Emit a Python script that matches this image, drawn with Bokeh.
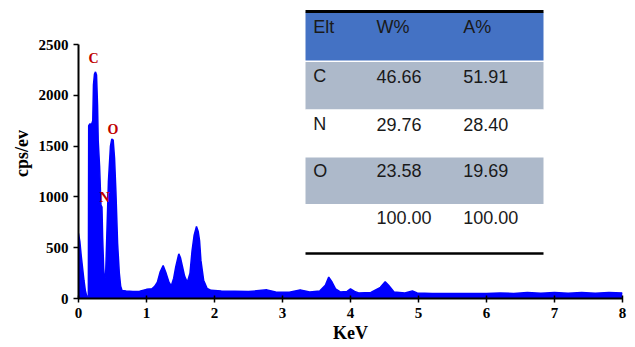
from bokeh.plotting import figure
from bokeh.models import Range1d, FixedTicker, Label, ColumnDataSource
from bokeh.core.properties import value
from bokeh.embed import file_html
from bokeh.resources import INLINE

# ---------------- data ----------------
energy_kev = [0.00, 0.02, 0.04, 0.06, 0.08, 0.10, 0.12, 0.145, 0.15, 0.17, 0.19, 0.21,
              0.22, 0.235, 0.25, 0.265, 0.28, 0.29, 0.31, 0.33, 0.345, 0.355, 0.37, 0.385,
              0.40, 0.42, 0.44, 0.47, 0.49, 0.51, 0.53, 0.55, 0.575, 0.60, 0.62, 0.64,
              0.70, 0.80, 0.90, 1.00, 1.08, 1.12, 1.16, 1.20, 1.245, 1.29, 1.33, 1.365,
              1.40, 1.43, 1.475, 1.50, 1.525, 1.56, 1.60, 1.64, 1.67, 1.70, 1.735, 1.76,
              1.78, 1.80, 1.84, 1.89, 1.95, 2.10, 2.30, 2.50, 2.77, 2.90, 3.10, 3.26,
              3.40, 3.55, 3.63, 3.68, 3.73, 3.78, 3.85, 3.95, 4.00, 4.06, 4.12, 4.30,
              4.44, 4.51, 4.56, 4.64, 4.80, 4.91, 4.98, 5.20, 5.60, 6.00, 6.20, 6.40,
              6.60, 6.80, 7.00, 7.20, 7.40, 7.60, 7.80, 8.00]
counts = [640, 560, 420, 300, 180, 80, 25, 22, 1700, 1720, 1710, 1750,
          2100, 2210, 2230, 2200, 1900, 1550, 1300, 920, 900, 600, 300, 170,
          250, 700, 1150, 1500, 1570, 1560, 1380, 1050, 540, 250, 120, 80,
          75, 70, 72, 90, 95, 120, 160, 260, 325, 245, 160, 125,
          200, 310, 440, 400, 325, 220, 160, 250, 470, 620, 710, 660,
          570, 375, 180, 100, 80, 75, 72, 68, 85, 65, 62, 85,
          65, 75, 130, 210, 160, 95, 65, 70, 95, 70, 55, 60,
          110, 165, 130, 65, 55, 75, 55, 50, 48, 48, 55, 50,
          58, 52, 58, 52, 58, 52, 58, 55]

peak_labels = ["C", "N", "O"]
peak_label_x = [0.22, 0.382, 0.507]
peak_label_y = [2362, 994, 1663]

x_ticks = [0, 1, 2, 3, 4, 5, 6, 7, 8]
y_ticks = [0, 500, 1000, 1500, 2000, 2500]

table_header = ["Elt", "W%", "A%"]
table_elements = ["C", "N", "O", ""]
table_weight = ["46.66", "29.76", "23.58", "100.00"]
table_atomic = ["51.91", "28.40", "19.69", "100.00"]

# ---------------- layout ----------------
W, H = 635, 347
BL, BR, BT, BB = 78, 13, 8, 49
FW, FH = W - BL - BR, H - BT - BB
XMAX = 8.0
YMAX = 2500.0 * FH / 254.0


def px_x(px):
    return (px - BL) / FW * XMAX


def px_y(py):
    return (H - BB - py) / FH * YMAX


p = figure(width=W, height=H, output_backend="svg", toolbar_location=None,
           x_range=Range1d(0, XMAX), y_range=Range1d(0, YMAX),
           min_border_left=BL, min_border_right=BR, min_border_top=BT, min_border_bottom=BB)
p.outline_line_color = None
p.xgrid.visible = False
p.ygrid.visible = False
p.background_fill_color = "white"
p.border_fill_color = "white"

BLUE = "#0000FF"
p.varea(x=energy_kev, y1=0, y2=counts, color=BLUE)
p.line(energy_kev, counts, color=BLUE, line_width=1.5)

for t, x, y in zip(peak_labels, peak_label_x, peak_label_y):
    p.add_layout(Label(x=x, y=y, text=t, text_align="center", text_baseline="middle",
                       text_font="Liberation Serif", text_font_style="bold",
                       text_font_size="14px", text_color="#C00000"))

# axes
serif = "Liberation Serif"
xa = p.xaxis[0]
xa.ticker = FixedTicker(ticks=x_ticks)
xa.bounds = (0, 8)
xa.axis_label = "KeV"
ya = p.yaxis[0]
ya.ticker = FixedTicker(ticks=y_ticks)
ya.bounds = (0, 2500)
ya.axis_label = "cps/ev"
for ax in (xa, ya):
    ax.axis_line_color = "black"
    ax.axis_line_width = 2
    ax.major_tick_line_color = "black"
    ax.major_tick_line_width = 1.5
    ax.minor_tick_line_color = None
    ax.major_label_text_font = serif
    ax.major_label_text_font_style = "bold"
    ax.major_label_text_font_size = "15px"
    ax.major_label_text_color = "black"
    ax.axis_label_text_font = serif
    ax.axis_label_text_font_style = "bold"
    ax.axis_label_text_font_size = "18px"
    ax.axis_label_text_color = "black"
xa.major_tick_in = 3
xa.major_tick_out = 4
xa.major_label_standoff = 5
xa.axis_label_standoff = 2
ya.major_tick_in = 0
ya.major_tick_out = 5
ya.major_label_standoff = 5
ya.axis_label_standoff = 4

# ---------------- table ----------------
t_left, t_right = px_x(305), px_x(543)
row_tops = [12, 61.5, 109, 157, 203.5]
row_bots = [60, 109, 157, 203.5, 251]
row_colors = ["#4472C4", "#ADB9CA", "white", "#ADB9CA", "white"]
p.quad(left=t_left, right=t_right,
       top=[px_y(v) for v in row_tops], bottom=[px_y(v) for v in row_bots],
       fill_color=row_colors, line_color=None)
p.segment(x0=t_left, x1=t_right, y0=[px_y(11), px_y(253)], y1=[px_y(11), px_y(253)],
          line_color="black", line_width=[3, 2.5])

col_x = [px_x(312.7), px_x(376), px_x(462.7)]
row_y = [px_y(26.5), px_y(75.5), px_y(123.5), px_y(170), px_y(216.5)]
texts, tx, ty = [], [], []
for j, h in enumerate(table_header):
    texts.append(h); tx.append(col_x[j]); ty.append(row_y[0])
for i in range(len(table_elements)):
    for j, v in enumerate((table_elements[i], table_weight[i], table_atomic[i])):
        texts.append(v); tx.append(col_x[j]); ty.append(row_y[i + 1])
src = ColumnDataSource(dict(x=tx, y=ty, text=texts))
p.text(x="x", y="y", text="text", source=src, text_font=value("Liberation Sans"),
       text_font_size="18px", text_color="#1a1a1a", text_align="left",
       text_baseline="middle")

open("out.html", "w").write(file_html(p, INLINE))
